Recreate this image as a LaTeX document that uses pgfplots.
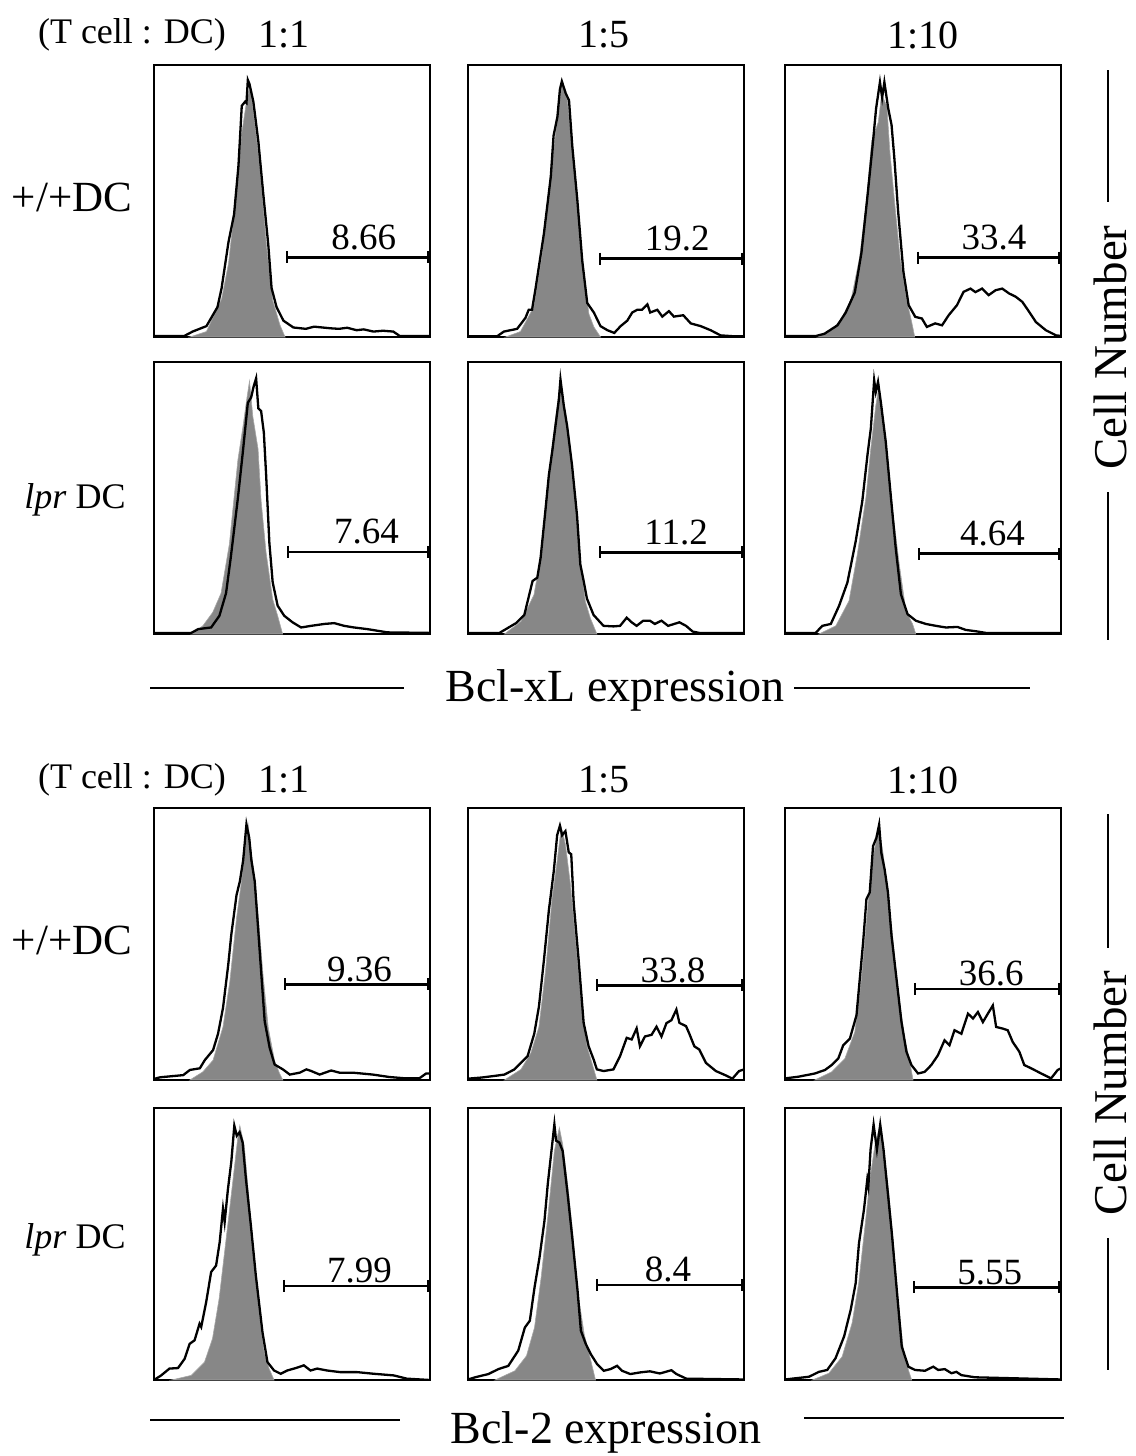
\documentclass[border=0pt]{standalone}
\usepackage{pgfplots}
\pgfplotsset{compat=1.18}
\usepackage{fontspec}
\setmainfont{Liberation Serif}
\pgfplotsset{hist/.style={width=138pt,height=136pt,scale only axis,xmin=0,xmax=100,ymin=0,ymax=100,
  axis line style={line width=0.8pt},ticks=none,anchor=north west,clip=true}}
% #1 x, #2 y, #3 gray, #4 black, #5 bar y, #6 label x, #7 label, #8 bar start, #9 label yshift
\newcommand{\hpanel}[9]{%
\begin{axis}[hist, at={(#1,#2)}]
\addplot[fill=black!47, draw=black!35, line width=0.3pt] coordinates {#3} \closedcycle;
\addplot[black, line width=1.15pt] coordinates {#4};
\addplot[black, line width=1.3pt, mark=|, mark size=3pt, mark options={line width=1pt}] coordinates {(#8,#5)(99.3,#5)};
\node[anchor=base, font=\fontsize{18.5}{20}\selectfont, inner sep=0pt, yshift=#9] at (axis cs:#6,#5) {#7};
\end{axis}}
\begin{document}
\begin{tikzpicture}
\useasboundingbox (0,0) rectangle (567.5pt,-728pt);
% ---------- Bcl-xL block ----------
\hpanel{77pt}{-32.5pt}
{(13,0)(19,2)(24.5,14)(27,27)(29.5,50)(31.8,75)(33.6,87)(34.8,92)(36.6,78)(38.4,62)(40.8,33)(43,13.5)(45.6,4.5)(47.5,0)}
{(0,0.4)(11,0.4)(14,2)(19,4)(23,11)(24.5,18)(27,35)(29,45)(30.6,63)(31.8,85)(33,86.5)(33.5,86)(34,94.5)(34.6,93)(36,86.5)(37.8,72)(39.6,52.5)(41.4,34)(42.6,18)(44.4,11)(46.9,6)(50.5,3.5)(55,3)(58,3.8)(61,3.5)(64,3.2)(67,3)(70,3.4)(73.4,2.5)(76,2.8)(79.5,2)(83,2.3)(86.7,2)(89,0.4)(100,0.4)}
{29.3}{76}{8.66}{48.2}{4pt}
\hpanel{234pt}{-32.5pt}
{(13.6,0)(19,2)(23.8,11)(26.8,30)(30,61)(32.4,80)(34,93)(36,87)(38.4,63)(41.4,28)(43.8,8.5)(45.6,3.7)(48,0)}
{(0,0.3)(10.6,0.3)(13,2)(17.8,3)(20.8,7)(22,10)(23.2,10)(24.5,18)(27.5,38)(30,59)(31,74)(32.4,81)(33.3,91)(34,94)(35.4,89.6)(36.6,87)(37.8,70)(39.6,50.5)(41.4,28)(43.2,12.5)(45.6,9)(48,4)(50.5,2.5)(53,1.5)(55.3,4)(57.7,6)(59.5,9)(61.3,10)(63,10)(65,12)(66,9)(68.6,10)(70.4,7.5)(72.8,9.5)(74.6,7.5)(78,8)(80.7,5)(84.3,4)(87.9,2.5)(91.5,0.6)(95.8,0.3)(100,0.3)}
{28.8}{75.8}{19.2}{48}{4pt}
\hpanel{392.5pt}{-32.5pt}
{(11.8,0)(17.3,3)(20.4,6.6)(24,14)(27,29)(29.5,50)(31.4,72)(33.8,79)(35,89)(36.9,85)(38,68)(39.9,47.5)(41.7,29)(44,14)(45.9,5.5)(47,0)}
{(0,0.4)(11.3,0.4)(14.3,1.2)(19,4.3)(22,9)(25.3,16.4)(27.7,31)(30,53)(31.9,72)(33,84)(34.4,93.7)(35.2,88)(36,93.7)(37.4,84)(38.6,78)(39.6,66)(41,46)(42.9,24)(44.8,11.7)(47.2,7.4)(49.6,6.8)(51.4,3.7)(54.4,5)(56.9,4.3)(59.3,8)(62.3,11.7)(64.7,16.6)(67.2,17.8)(69,16.5)(71.4,17.8)(73.8,15.4)(76.3,17.2)(78.7,17.8)(81.2,16)(83.6,14.8)(86,12.9)(88.5,9.2)(90.9,5.5)(94.5,2.5)(98.2,0.6)(100,0.4)}
{29.2}{75.7}{33.4}{48.1}{4pt}
\hpanel{77pt}{-181pt}
{(13.5,0)(17.7,3)(21.3,8)(24.3,15)(27.3,33)(30.4,64)(32.2,76)(33.7,87)(34.6,93)(35.8,80)(37.7,68)(38.8,49)(40.6,30)(43,12.8)(44.8,6.7)(46.6,0)}
{(0,0.4)(13.5,0.4)(16,1.8)(20.7,2.4)(23.7,6.7)(26.1,15)(27.8,28)(30.4,50)(32.2,67)(34,85)(35.2,87)(36.1,91)(37,94)(37.8,83)(38.8,82)(39.8,74)(40.6,59)(41.8,33.5)(43,19)(44.8,10.4)(47.2,6.7)(50.2,4.3)(53.3,2.4)(56.9,3)(61.7,3.7)(65.3,4)(68.9,3)(72.5,2.4)(77.3,1.8)(84.6,0.6)(100,0.4)}
{30.2}{77}{7.64}{48.4}{4pt}
\hpanel{234pt}{-181pt}
{(13.2,0)(19.2,4.6)(23.9,14.4)(26.9,31.5)(29.9,64.5)(32.3,84)(33.5,92.7)(34.7,85.4)(36.5,73)(38.9,50)(40.7,26.8)(42.5,12)(44.3,5.9)(46.7,0)}
{(0,0.4)(11.4,0.4)(14.4,2.2)(17.4,4)(20.4,7)(23.4,19.5)(25.1,20.7)(26.3,28)(28.1,46)(29.3,58.5)(30.5,67)(31.7,76.6)(32.9,86)(33.5,93.6)(34.7,84)(35.9,76.6)(37.7,62)(39.5,43.6)(40.7,25.6)(41.9,19.5)(43.1,13)(45.5,7)(49.1,3)(52.7,2.8)(55.1,3)(57.5,6)(59.3,4.3)(61.1,3)(63.5,4.9)(65.9,4.9)(67.7,3.7)(70.1,4.9)(72.5,3)(76.6,4.3)(79,3)(81.4,0.9)(83.8,0.4)(100,0.4)}
{30}{75.4}{11.2}{47.9}{4pt}
\hpanel{392.5pt}{-181pt}
{(12.3,0)(18.4,3)(23.2,12.2)(26.2,29.3)(29.3,50)(31.1,68.3)(32.9,84)(34.1,91.5)(35.3,80.5)(37.1,66)(38.9,46.3)(41.4,25.6)(43.8,8.5)(46.2,3.7)(47.4,0)}
{(0,0.4)(11.1,0.4)(13.5,3)(16.6,3.7)(19.6,10.4)(22.6,18.9)(25.6,34)(28,48.8)(29.9,66)(31.1,75.6)(32.3,93.3)(32.9,89)(33.7,92.7)(34.7,85.4)(36.5,70.7)(38.4,50)(40.1,31.7)(42,14.6)(44.4,7.3)(47.4,4.9)(51,3.7)(54.7,3)(58.3,2.4)(62.5,2.6)(65.5,1.5)(69.2,1)(72.8,0.4)(100,0.4)}
{29.5}{75.2}{4.64}{48.4}{4pt}
% ---------- Bcl-2 block ----------
\hpanel{77pt}{-404pt}
{(13,0)(17.7,3)(21.4,7.3)(25,19.5)(27.5,36.4)(29.9,59.5)(31.7,73)(32.9,84)(34.1,94)(35.3,83)(36.5,74.3)(37.7,61)(39.5,38.7)(41.4,19.2)(43.7,7)(45.5,2.4)(46.7,0)}
{(0,0.4)(2.2,1)(10.6,1.8)(13,3.7)(16.6,4.3)(18.4,7.3)(21.4,11)(23.2,17)(25,26.5)(26.9,42.4)(28,53.4)(29.9,68)(31.1,73)(32.3,80.7)(33.5,94)(34.5,89)(35.3,80.7)(36.5,73)(37.7,56)(38.9,38.7)(40.1,21.6)(41.9,11.9)(43.7,5.7)(46.7,3.9)(49.2,2)(52.8,2.7)(55.2,3.9)(57,3.3)(60,2)(64.2,3.5)(67.2,2.7)(72,2.7)(79.3,2)(85.3,1.1)(91.3,0.6)(96.1,0.6)(98.6,2.4)(100,2.4)}
{35.2}{74.5}{9.36}{47.3}{1.5pt}
\hpanel{234pt}{-404pt}
{(13.2,0)(19.2,3.9)(22.8,10)(25.7,19.5)(28.1,40.2)(30.5,67)(32.3,80.5)(33.8,93)(35.3,86.6)(37.1,72)(38.9,52.4)(40.7,32)(43.1,12.4)(44.9,6.3)(46.7,0)}
{(0,0.5)(4.8,0.9)(9.6,1.5)(13.2,2)(16.8,3.9)(19.2,6.3)(21.6,8.8)(24,17)(25.7,27)(27.5,44)(29.3,62.4)(31.1,77)(32.3,90)(33.3,93.5)(34.1,90)(35.3,91.5)(36.5,83.7)(37.4,83)(38.3,65)(40.1,44)(41.9,21)(43.7,12.4)(45.5,7.6)(46.7,3.9)(49.1,3.3)(52.7,3.9)(55.1,8.8)(57.5,15.5)(59.3,14.9)(61.1,19)(62.3,12.4)(64.1,16)(66.5,16.6)(68.3,19.6)(70.1,16)(71.9,20.9)(73.7,22)(75.5,25.9)(76.6,21)(79,19.8)(80.2,17)(82,12.4)(83.8,11.2)(86.2,6.3)(89.8,3.3)(93.4,1.7)(95.8,0.5)(98.2,3.3)(100,3.9)}
{34.8}{74.3}{33.8}{46.9}{1.5pt}
\hpanel{392.5pt}{-404pt}
{(10.8,0)(16.9,3)(21.7,7.9)(25.3,17.7)(27.7,37.2)(30.1,65)(31.9,82)(34,93)(35.5,83.5)(37.3,69)(39.2,50.6)(41,32.3)(43.4,15.2)(45.2,6.7)(46.4,0)}
{(0,0.6)(4.8,1.2)(10.8,2.4)(14.5,3.7)(16.9,5.5)(19.3,7.9)(21.1,12.8)(23.5,15.2)(25.9,23.8)(28.3,50.6)(29.5,66.5)(30.7,69)(31.9,86)(33.1,89)(34.1,93.9)(34.9,83.5)(36.1,77.4)(37.3,69)(38.6,53)(40.4,37.2)(42.2,21.3)(44,10.4)(45.8,5.5)(48.2,2.4)(50.6,3)(53,5.5)(55.4,9.1)(57.8,14.6)(59.6,12.8)(61.4,18.3)(63.9,17)(66.3,24.4)(68.1,22.6)(69.9,25)(71.7,21.3)(73.5,24.4)(75.3,27.4)(76.5,19.5)(78.9,18.9)(80.7,18.3)(82.5,14)(84.9,10.4)(86.7,5.5)(89.2,4.3)(92.8,2.4)(96.4,0.6)(98.8,3.7)(100,4.3)}
{33.5}{74.7}{36.6}{47}{1.5pt}
\hpanel{77pt}{-554pt}
{(6.3,0)(13.5,1.7)(18.3,6.6)(21.2,15.2)(23.6,29.9)(26,50.7)(28.4,71.6)(30.3,88.6)(31.1,93.5)(32.7,86.2)(34.5,65.4)(36.3,44.6)(38.1,25)(39.9,10.3)(41.7,4.2)(43.5,0)}
{(0,0)(2.6,1.7)(5.6,4.2)(8.7,4.4)(11.1,7.8)(12.9,13.3)(14.7,14.6)(16.5,20.7)(17.1,19.5)(18.9,28.6)(20.7,39.7)(22.5,42.1)(23.8,50.7)(25,63)(25.6,58.1)(26.8,70.3)(28,80.1)(29.1,93.5)(30,89.8)(31,91.1)(32.1,87.4)(33.3,74)(35.1,56.8)(36.9,38.4)(39.3,17.6)(41.1,6.6)(43.5,3.5)(45.9,2.3)(48.3,3.5)(51.4,4.4)(54.3,5.4)(56.7,3.5)(59.1,4.2)(62.7,3.5)(67.5,2.9)(73.6,2.9)(79.6,2.3)(86.8,1.7)(91.6,0.5)(100,0)}
{34.6}{74.5}{7.99}{47.1}{1.5pt}
\hpanel{234pt}{-554pt}
{(9.8,0)(17,3.4)(21.2,8.9)(24.1,19.3)(26.5,37.7)(28.9,59.8)(31.3,84.3)(33.1,92.8)(34.3,86.7)(36.1,72)(37.9,54.8)(39.7,32.8)(42.1,16.9)(44.5,7.1)(46.2,0)}
{(0,0.2)(2.6,1)(7.4,2.2)(11,4)(14.6,5.2)(18.2,10.8)(20.6,19.3)(22.4,21.8)(24.1,34)(25.9,45)(27.7,58.5)(28.9,72)(30.1,83)(31.3,94)(31.9,88)(33.1,87.3)(34.3,84.2)(36.1,68.3)(37.9,51.1)(39.7,32.8)(40.9,18.1)(42.7,13.2)(44.5,9.5)(46.8,5.8)(49.2,3.4)(51.6,4)(54,5.2)(55.8,3.4)(58.8,2.2)(62.4,2.8)(65.9,3.2)(69.5,2.4)(73.7,3.6)(75.5,2.2)(79.1,0.5)(100,0.2)}
{35}{72.5}{8.4}{46.8}{1.5pt}
\hpanel{392.5pt}{-554pt}
{(9.9,0)(15.9,2.5)(20.7,8.6)(24.3,20.9)(26.7,35.6)(29.1,57.7)(30.9,74.8)(32.7,87.1)(34.5,93.9)(35.7,84.7)(37.5,70)(39.3,50.3)(41.1,28.2)(42.9,11)(44.7,3.7)(45.9,0)}
{(0,0.2)(8.7,1.2)(12.3,3)(15.3,3.7)(18.3,8)(21.4,16)(23.8,25.8)(25.6,35.6)(26.8,50.3)(28.6,62.6)(29.8,73.6)(30.2,71.2)(31,84.7)(32.1,93.9)(33.3,84.7)(34.5,93.9)(35.7,84.7)(36.9,72.4)(38.7,54)(40.5,33.1)(42.3,12.3)(44.7,4.9)(47.1,3.7)(50.7,3.4)(53.7,4.9)(55.5,3.7)(57.9,4)(60.3,2.5)(62.1,3)(63.9,1.8)(68.8,1)(100,0.2)}
{34.1}{74.2}{5.55}{46.9}{1.5pt}
% ---------- texts ----------
\foreach \yy in {-17.5pt,-390pt}{
  \node[font=\fontsize{18}{20}\selectfont] at (66pt,\yy) {(T cell : DC)};
  \node[font=\fontsize{20}{22}\selectfont] at (142pt,\yy) {1:1};
  \node[font=\fontsize{20}{22}\selectfont] at (302pt,\yy) {1:5};
  \node[font=\fontsize{20}{22}\selectfont] at (461.5pt,\yy) {1:10};
}
\node[font=\fontsize{21.5}{22}\selectfont] at (36pt,-98.5pt) {+/+DC};
\node[font=\fontsize{21.5}{22}\selectfont] at (36pt,-470pt) {+/+DC};
\node[font=\fontsize{18}{20}\selectfont] at (37.5pt,-250pt) {\textit{lpr} DC};
\node[font=\fontsize{18}{20}\selectfont] at (37.5pt,-620pt) {\textit{lpr} DC};
\node[font=\fontsize{23.5}{26}\selectfont, rotate=90] at (555pt,-173.75pt) {Cell Number};
\node[font=\fontsize{23.5}{26}\selectfont, rotate=90] at (555pt,-546.5pt) {Cell Number};
\draw[line width=0.8pt] (554pt,-35pt) -- (554pt,-101pt);
\draw[line width=0.8pt] (554pt,-246pt) -- (554pt,-320pt);
\draw[line width=0.8pt] (554pt,-407pt) -- (554pt,-474pt);
\draw[line width=0.8pt] (554pt,-619pt) -- (554pt,-685pt);
\node[font=\fontsize{23}{25}\selectfont] at (307.5pt,-345pt) {Bcl-xL expression};
\draw[line width=0.8pt] (75pt,-344pt) -- (202pt,-344pt);
\draw[line width=0.8pt] (397pt,-344pt) -- (515pt,-344pt);
\node[font=\fontsize{23}{25}\selectfont] at (303pt,-716pt) {Bcl-2 expression};
\draw[line width=0.8pt] (75pt,-710pt) -- (200pt,-710pt);
\draw[line width=0.8pt] (402pt,-709pt) -- (532pt,-709pt);
\end{tikzpicture}
\end{document}
